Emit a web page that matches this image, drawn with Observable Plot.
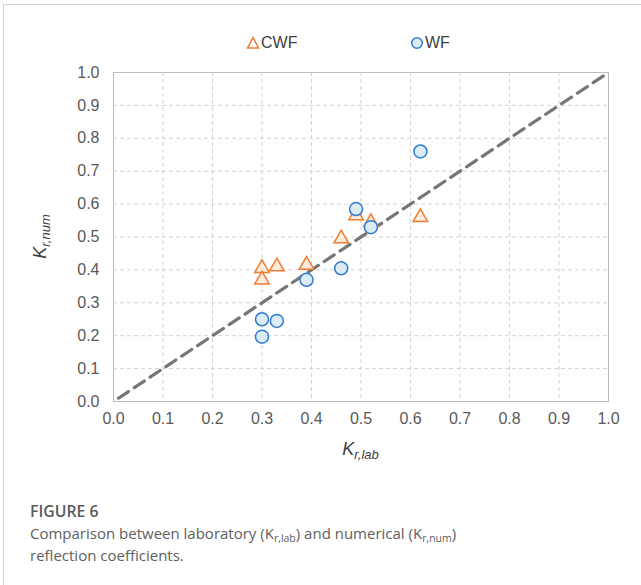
<!DOCTYPE html>
<html><head><meta charset="utf-8">
<script src="https://cdn.jsdelivr.net/npm/d3@7"></script>
<script src="https://cdn.jsdelivr.net/npm/@observablehq/plot@0.6"></script>
<style>
body{margin:0;background:#fff;width:641px;height:585px;overflow:hidden;position:relative;font-family:"Liberation Sans",Arial,sans-serif;}
#frame{position:absolute;left:3px;top:4px;width:700px;height:640px;border-top:1px solid #cfcfcf;border-left:1px solid #cfcfcf;}
.leg{position:absolute;top:33px;height:20px;display:flex;align-items:center;font-size:16px;color:#404040;}
#chart{position:absolute;left:0;top:60px;}
#chart svg text{font-family:"Liberation Sans",Arial,sans-serif;}
#cap{position:absolute;left:30px;top:500px;font-family:"Open Sans",sans-serif;color:#5a5a5a;}
#cap .t{font-weight:600;font-size:15.8px;line-height:22px;}
#cap .d{font-size:15px;line-height:22px;color:#606060;}
#cap sub{font-size:10.5px;vertical-align:-3px;line-height:0;}
</style></head>
<body>
<div id="frame"></div>
<div class="leg" style="left:246px"><svg width="14" height="14" style="margin-right:1px"><path d="M7,1.5 L12.5,12 L1.5,12 Z" fill="#fff" stroke="#ED7D31" stroke-width="1.5"/></svg><span>CWF</span></div>
<div class="leg" style="left:410px"><svg width="14" height="14" style="margin-right:1px"><circle cx="7" cy="7" r="5.3" fill="#DDEBF7" stroke="#2E7CD0" stroke-width="1.5"/></svg><span>WF</span></div>
<div id="chart"></div>
<div id="cap"><div class="t">FIGURE 6</div><div class="d">Comparison between laboratory (K<sub>r,lab</sub>) and numerical (K<sub>r,num</sub>)<br>reflection coefficients.</div></div>
<script>
const kLab = [0.30, 0.30, 0.33, 0.39, 0.46, 0.49, 0.52, 0.62];
const cwfNum = [0.405, 0.37, 0.41, 0.415, 0.495, 0.565, 0.545, 0.56];
const wfNum = [0.25, 0.197, 0.245, 0.37, 0.405, 0.585, 0.53, 0.76];
const lineEnds = [0.01, 1.0];
const ticks = [0, 0.1, 0.2, 0.3, 0.4, 0.5, 0.6, 0.7, 0.8, 0.9, 1.0];

const cwf = kLab.map((x, i) => ({x, y: cwfNum[i]}));
const wf = kLab.map((x, i) => ({x, y: wfNum[i]}));
const diag = lineEnds.map(v => ({x: v, y: v}));

const W = 641, H = 420, mL = 113, mR = 33, mT = 12, mB = 79;
const plot = Plot.plot({
  width: W, height: H,
  marginLeft: mL, marginRight: mR, marginTop: mT, marginBottom: mB,
  style: {fontFamily: "Liberation Sans, Arial, sans-serif", background: "transparent"},
  x: {domain: [0, 1], ticks: ticks, tickFormat: d3.format(".1f")},
  y: {domain: [0, 1], ticks: ticks, tickFormat: d3.format(".1f")},
  marks: [
    Plot.gridX(ticks.slice(1, -1), {stroke: "#d3d3d3", strokeOpacity: 1, strokeDasharray: "4,3"}),
    Plot.gridY(ticks.slice(1, -1), {stroke: "#d3d3d3", strokeOpacity: 1, strokeDasharray: "4,3"}),
    Plot.frame({stroke: "#bdbdbd"}),
    Plot.axisX(ticks, {tickSize: 0, tickPadding: 11, fontSize: 16, fill: "#595959", label: null, tickFormat: d3.format(".1f")}),
    Plot.axisY(ticks, {tickSize: 0, tickPadding: 14, fontSize: 16, fill: "#595959", label: null, tickFormat: d3.format(".1f")}),
    Plot.line(diag, {x: "x", y: "y", stroke: "#767676", strokeWidth: 3.2, strokeDasharray: "12,7"}),
    Plot.dot(cwf, {x: "x", y: "y", symbol: "triangle", r: 5.4, fill: "#FDEBDD", stroke: "#ED7D31", strokeWidth: 1.5}),
    Plot.dot(wf, {x: "x", y: "y", symbol: "circle", r: 6.5, fill: "#DDEBF7", stroke: "#2E7CD0", strokeWidth: 1.5})
  ]
});
document.getElementById("chart").appendChild(plot);

const svg = d3.select(plot);
const xl = svg.append("text")
  .attr("x", (mL + W - mR) / 2).attr("y", H - 25)
  .attr("text-anchor", "middle").attr("fill", "#404040")
  .style("font-style", "italic").style("font-size", "18px");
xl.append("tspan").text("K");
xl.append("tspan").attr("dy", 4).style("font-size", "13px").text("r,lab");

const yl = svg.append("text")
  .attr("transform", `translate(46,${(mT + H - mB) / 2}) rotate(-90)`)
  .attr("text-anchor", "middle").attr("fill", "#404040")
  .style("font-style", "italic").style("font-size", "18px");
yl.append("tspan").text("K");
yl.append("tspan").attr("dy", 4).style("font-size", "13px").text("r,num");
</script>
</body></html>
